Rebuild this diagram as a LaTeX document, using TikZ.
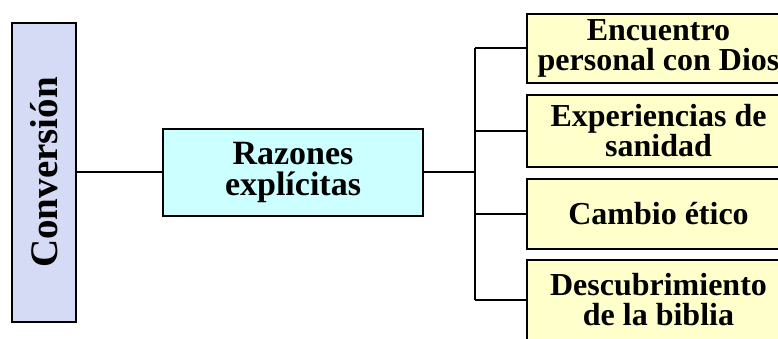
\documentclass[tikz,border=0pt]{standalone}
\usepackage{fontspec}
\setmainfont{Liberation Serif}
\definecolor{convfill}{RGB}{213,218,245}
\definecolor{razfill}{RGB}{204,255,255}
\definecolor{itemfill}{RGB}{255,255,204}
\begin{document}
\begin{tikzpicture}[x=1pt,y=-1pt,
  box/.style={draw=black, line width=2pt, inner sep=0pt, align=center},
  convbox/.style={box, fill=convfill, rotate=90, minimum width=299pt, minimum height=64pt,
    font=\bfseries\fontsize{39}{40}\selectfont},
  razbox/.style={box, fill=razfill, minimum width=260pt, minimum height=87pt,
    font=\bfseries\fontsize{34}{31}\selectfont},
  itembox/.style={box, fill=itemfill, minimum width=263pt,
    font=\bfseries\fontsize{32}{30}\selectfont},
  conn/.style={line width=2pt, draw=black}]
\useasboundingbox (0,0) rectangle (778,339);
\clip (0,0) rectangle (778,339);
\node[convbox] (conv) at (44,172.5) {Conversión};
\node[razbox] (razon) at (293,172.5) {Razones\\explícitas};
\node[itembox, minimum height=69pt] (r1) at (658.5,48.5) {Encuentro\\personal con Dios};
\node[itembox, minimum height=72pt] (r2) at (658.5,131) {Experiencias de\\sanidad};
\node[itembox, minimum height=70pt] (r3) at (658.5,214) {Cambio ético};
\node[itembox, minimum height=80pt] (r4) at (658.5,300) {Descubrimiento\\de la biblia};
\coordinate (bus) at (475,172.5);
\draw[conn] (conv.south) -- (razon.west);
\draw[conn] (razon.east) -- (bus);
\draw[conn] (bus |- r1.west) -- (bus |- r4.west);
\foreach \n in {r1,r2,r3,r4} \draw[conn] (bus |- \n.west) -- (\n.west);
\end{tikzpicture}
\end{document}
